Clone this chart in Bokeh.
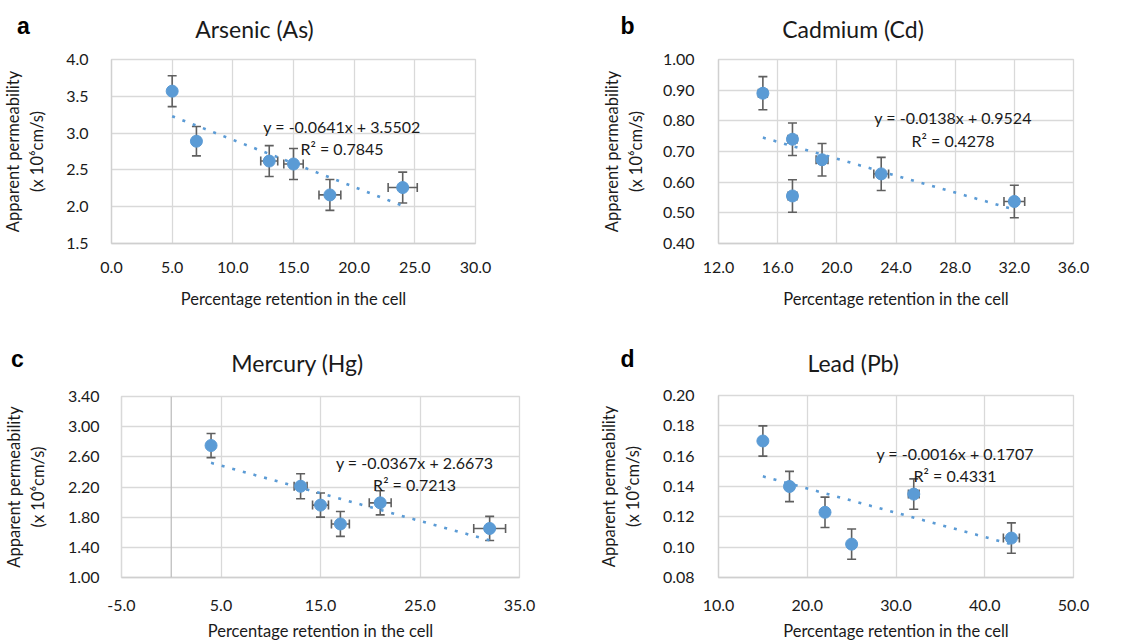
from bokeh.plotting import figure
from bokeh.models import (Range1d, FixedTicker, NumeralTickFormatter, Whisker, TeeHead,
                          ColumnDataSource, Label, Span)
from bokeh.layouts import column, row
from bokeh.embed import file_html
from bokeh.resources import INLINE

# ---------------- data ----------------
as_x = [5, 7, 13, 15, 18, 24]
as_y = [3.57, 2.89, 2.62, 2.58, 2.16, 2.26]
as_yerr = [0.21, 0.20, 0.21, 0.21, 0.21, 0.21]
as_xerr = [0.0, 0.3, 0.7, 0.8, 0.9, 1.2]
as_fit = (-0.0641, 3.5502)
as_eq = ["y = -0.0641x + 3.5502", "R² = 0.7845"]

cd_x = [15, 17, 17, 19, 23, 32]
cd_y = [0.890, 0.740, 0.555, 0.673, 0.627, 0.537]
cd_yerr = [0.054, 0.053, 0.053, 0.053, 0.054, 0.053]
cd_xerr = [0.3, 0.3, 0.3, 0.4, 0.5, 0.7]
cd_fit = (-0.0138, 0.9524)
cd_eq = ["y = -0.0138x + 0.9524", "R² = 0.4278"]

hg_x = [4, 13, 15, 17, 21, 32]
hg_y = [2.75, 2.21, 1.96, 1.71, 1.99, 1.65]
hg_yerr = [0.16, 0.165, 0.16, 0.165, 0.16, 0.16]
hg_xerr = [0.0, 0.65, 0.8, 0.9, 1.1, 1.6]
hg_fit = (-0.0367, 2.6673)
hg_eq = ["y = -0.0367x + 2.6673", "R² = 0.7213"]

pb_x = [15, 18, 22, 25, 32, 43]
pb_y = [0.170, 0.140, 0.123, 0.102, 0.135, 0.106]
pb_yerr = [0.010, 0.010, 0.010, 0.010, 0.010, 0.010]
pb_xerr = [0.0, 0.2, 0.2, 0.2, 0.6, 0.9]
pb_fit = (-0.0016, 0.1707)
pb_eq = ["y = -0.0016x + 0.1707", "R² = 0.4331"]

titles = ["Arsenic (As)", "Cadmium (Cd)", "Mercury (Hg)", "Lead (Pb)"]
letters = ["a", "b", "c", "d"]
x_label = "Percentage retention in the cell"
y_label = "Apparent permeability\n(x 10⁶cm/s)"

FONT = "Lato"
BLUE = "#5B9BD5"
GRID = "#d9d9d9"
ERR = "#5f5f5f"
TXT = "#1a1a1a"


def strip(width, height, title, letter, title_xy, letter_xy):
    s = figure(width=width, height=height, output_backend="svg", toolbar_location=None,
               x_range=Range1d(0, width), y_range=Range1d(0, height),
               x_axis_location=None, y_axis_location=None, min_border=0,
               frame_align=False)
    s.grid.visible = False
    s.outline_line_color = None
    s.add_layout(Label(x=title_xy[0], y=title_xy[1], text=title, text_align="center",
                       text_baseline="middle", text_font=FONT, text_font_size="23px",
                       text_color=TXT))
    s.add_layout(Label(x=letter_xy[0], y=letter_xy[1], text=letter, text_align="center",
                       text_baseline="middle", text_font="Liberation Sans",
                       text_font_style="bold", text_font_size="23px", text_color="#000000"))
    return s


def panel(xs, ys, yerr, xerr, fit, eq,
          xr, xticks, xfmt, yr, yticks, yfmt,
          width, height, borders, eq_pos,
          ylab_standoffs=(18, 15), xlab_standoffs=(12, 13), yaxis_at_zero=False):
    p = figure(width=width, height=height, output_backend="svg", toolbar_location=None,
               x_range=Range1d(*xr), y_range=Range1d(*yr), frame_align=False)
    p.min_border_left, p.min_border_right, p.min_border_top, p.min_border_bottom = borders
    p.outline_line_color = GRID
    p.outline_line_width = 1.3

    for ax, ticks, fmt in ((p.xaxis[0], xticks, xfmt), (p.yaxis[0], yticks, yfmt)):
        ax.ticker = FixedTicker(ticks=ticks)
        ax.formatter = NumeralTickFormatter(format=fmt)
        ax.major_tick_line_color = None
        ax.minor_tick_line_color = None
        ax.major_label_text_font = FONT
        ax.major_label_text_font_size = "16px"
        ax.major_label_text_color = TXT
        ax.axis_label_text_font = FONT
        ax.axis_label_text_font_size = "16.5px"
        ax.axis_label_text_font_style = "normal"
        ax.axis_label_text_color = TXT
    p.xaxis.axis_line_color = "#cfcfcf"
    p.xaxis.axis_line_width = 1.3
    p.yaxis.axis_line_color = GRID if yaxis_at_zero else "#d0d0d0"
    p.yaxis.axis_line_width = 1.3
    p.xaxis.axis_label = x_label
    p.yaxis.axis_label = y_label
    p.yaxis.major_label_standoff, p.yaxis.axis_label_standoff = ylab_standoffs
    p.xaxis.major_label_standoff, p.xaxis.axis_label_standoff = xlab_standoffs
    p.xgrid.ticker = FixedTicker(ticks=xticks)
    p.ygrid.ticker = FixedTicker(ticks=yticks)
    p.xgrid.grid_line_color = GRID
    p.ygrid.grid_line_color = GRID
    p.xgrid.grid_line_width = 1.3
    p.ygrid.grid_line_width = 1.3

    if yaxis_at_zero:
        p.add_layout(Span(location=0, dimension="height", line_color="#bfbfbf", line_width=1.3))

    # trendline from the printed equation, over the data range
    x0, x1 = min(xs), max(xs)
    m, b = fit
    p.line([x0, x1], [m * x0 + b, m * x1 + b], line_color=BLUE, line_width=2.6,
           line_dash="3 8")

    src = ColumnDataSource(dict(
        x=xs, y=ys,
        yl=[y - e for y, e in zip(ys, yerr)], yu=[y + e for y, e in zip(ys, yerr)],
        xl=[x - e for x, e in zip(xs, xerr)], xu=[x + e for x, e in zip(xs, xerr)],
    ))
    for base, lo, hi, dim in (("x", "yl", "yu", "height"), ("y", "xl", "xu", "width")):
        p.add_layout(Whisker(source=src, base=base, lower=lo, upper=hi, dimension=dim,
                             line_color=ERR, line_width=1.6,
                             lower_head=TeeHead(size=9, line_color=ERR, line_width=1.6),
                             upper_head=TeeHead(size=9, line_color=ERR, line_width=1.6)))
    p.scatter("x", "y", source=src, size=12, fill_color=BLUE, line_color=BLUE)

    (ex, ey1), ey2 = eq_pos[0], eq_pos[1]
    for txt, ey in ((eq[0], ey1), (eq[1], ey2)):
        p.add_layout(Label(x=ex, y=ey, text=txt, text_align="center", text_baseline="middle",
                           text_font=FONT, text_font_size="16px", text_color=TXT))
    return p


sa = strip(570, 48, titles[0], letters[0], (254, 19.6), (23, 23))
sb = strip(572, 48, titles[1], letters[1], (282.5, 19.6), (57, 23))
sc = strip(570, 52, titles[2], letters[2], (297, 19.2), (17, 24))
sd = strip(572, 52, titles[3], letters[3], (282.7, 19.2), (57, 23.3))

pa = panel(as_x, as_y, as_yerr, as_xerr, as_fit, as_eq,
           (0, 30), [0, 5, 10, 15, 20, 25, 30], "0.0",
           (1.5, 4.0), [1.5, 2.0, 2.5, 3.0, 3.5, 4.0], "0.0",
           570, 282, (109, 95, 11, 87),
           ((19.0, 3.09), 2.79), ylab_standoffs=(17, 16))

pb = panel(cd_x, cd_y, cd_yerr, cd_xerr, cd_fit, cd_eq,
           (12, 36), [12, 16, 20, 24, 28, 32, 36], "0.0",
           (0.40, 1.00), [0.4, 0.5, 0.6, 0.7, 0.8, 0.9, 1.0], "0.00",
           572, 282, (148, 69, 11, 87),
           ((27.86, 0.81), 0.736), ylab_standoffs=(18, 14))

pc = panel(hg_x, hg_y, hg_yerr, hg_xerr, hg_fit, hg_eq,
           (-5, 35), [-5, 5, 15, 25, 35], "0.0",
           (1.0, 3.4), [1.0, 1.4, 1.8, 2.2, 2.6, 3.0, 3.4], "0.00",
           570, 261, (109, 51, 14, 64),
           ((24.46, 2.52), 2.23), ylab_standoffs=(16, 17), xlab_standoffs=(16, 7),
           yaxis_at_zero=True)

pd_ = panel(pb_x, pb_y, pb_yerr, pb_xerr, pb_fit, pb_eq,
            (10, 50), [10, 20, 30, 40, 50], "0.0",
            (0.08, 0.20), [0.08, 0.10, 0.12, 0.14, 0.16, 0.18, 0.20], "0.00",
            572, 261, (148, 69, 13, 64),
            ((36.66, 0.162), 0.147), ylab_standoffs=(18, 17), xlab_standoffs=(16, 7))

layout = row(column(sa, pa, sc, pc), column(sb, pb, sd, pd_))
open("out.html", "w").write(file_html(layout, INLINE))
